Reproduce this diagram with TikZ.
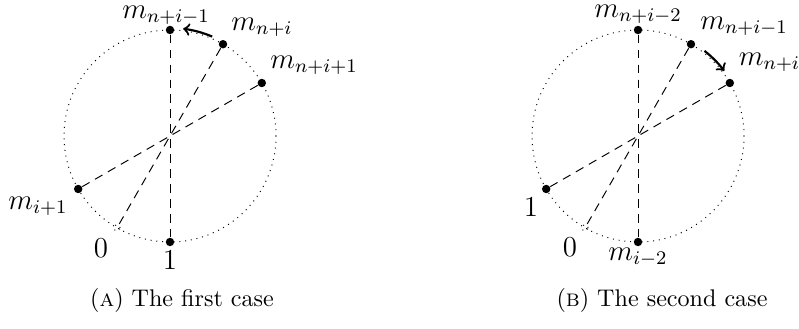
\documentclass[tikz,border=0pt]{standalone}
\usetikzlibrary{calc}
\begin{document}
\begin{tikzpicture}[x=0.415pt,y=0.415pt,
  dot/.style={circle,fill,inner sep=0pt,minimum size=3.5pt},
  odot/.style={circle,draw,dotted,inner sep=0pt,minimum size=2.6pt},
  lab/.style={inner sep=0pt,font=\large},
  captext/.style={inner sep=0pt},
  dia/.style={dash pattern=on 3.6pt off 2.6pt},
  rim/.style={dotted},
  move/.style={->,line width=0.9pt}]
\useasboundingbox (0,0) rectangle (799,329);
% ---------- left ----------
\coordinate (cL) at (170,193);
\draw[rim] (cL) circle[radius=106];
\node[dot]  (a90)  at ($(cL)+(90:106)$)  {};
\node[dot]  (a60)  at ($(cL)+(60:106)$)  {};
\node[dot]  (a30)  at ($(cL)+(30:106)$)  {};
\node[dot]  (a210) at ($(cL)+(210:106)$) {};
\node[odot] (a240) at ($(cL)+(240:106)$) {};
\node[dot]  (a270) at ($(cL)+(270:106)$) {};
\draw[dia] (a90) -- (a270);
\draw[dia] (a60) -- (a240);
\draw[dia] (a30) -- (a210);
\draw[move] ($(cL)+(67:108)$) arc[start angle=67,end angle=83,radius=108];
\node[lab] (la90)  at (166,314) {$m_{n+i-1}$};
\node[lab] (la60)  at (262,302) {$m_{n+i}$};
\node[lab] (la30)  at (314,264) {$m_{n+i+1}$};
\node[lab] (la210) at (38,123)  {$m_{i+1}$};
\node[lab] (la240) at (101,81)  {$0$};
\node[lab] (la270) at (170,69)  {$1$};
\node[captext] (capA) at (182,29) {(\textsc{a}) The first case};
% ---------- right ----------
\coordinate (cR) at (638,193);
\draw[rim] (cR) circle[radius=106];
\node[dot]  (b90)  at ($(cR)+(90:106)$)  {};
\node[dot]  (b60)  at ($(cR)+(60:106)$)  {};
\node[dot]  (b30)  at ($(cR)+(30:106)$)  {};
\node[dot]  (b210) at ($(cR)+(210:106)$) {};
\node[odot] (b240) at ($(cR)+(240:106)$) {};
\node[dot]  (b270) at ($(cR)+(270:106)$) {};
\draw[dia] (b90) -- (b270);
\draw[dia] (b60) -- (b240);
\draw[dia] (b30) -- (b210);
\draw[move] ($(cR)+(52:108)$) arc[start angle=52,end angle=37,radius=108];
\node[lab] (lb90)  at (638,315) {$m_{n+i-2}$};
\node[lab] (lb60)  at (744,303) {$m_{n+i-1}$};
\node[lab] (lb30)  at (769.5,267) {$m_{n+i}$};
\node[lab] (lb210) at (531,122) {$1$};
\node[lab] (lb240) at (570,82)  {$0$};
\node[lab] (lb270) at (638,72)  {$m_{i-2}$};
\node[captext] (capB) at (662,29) {(\textsc{b}) The second case};
\end{tikzpicture}
\end{document}
